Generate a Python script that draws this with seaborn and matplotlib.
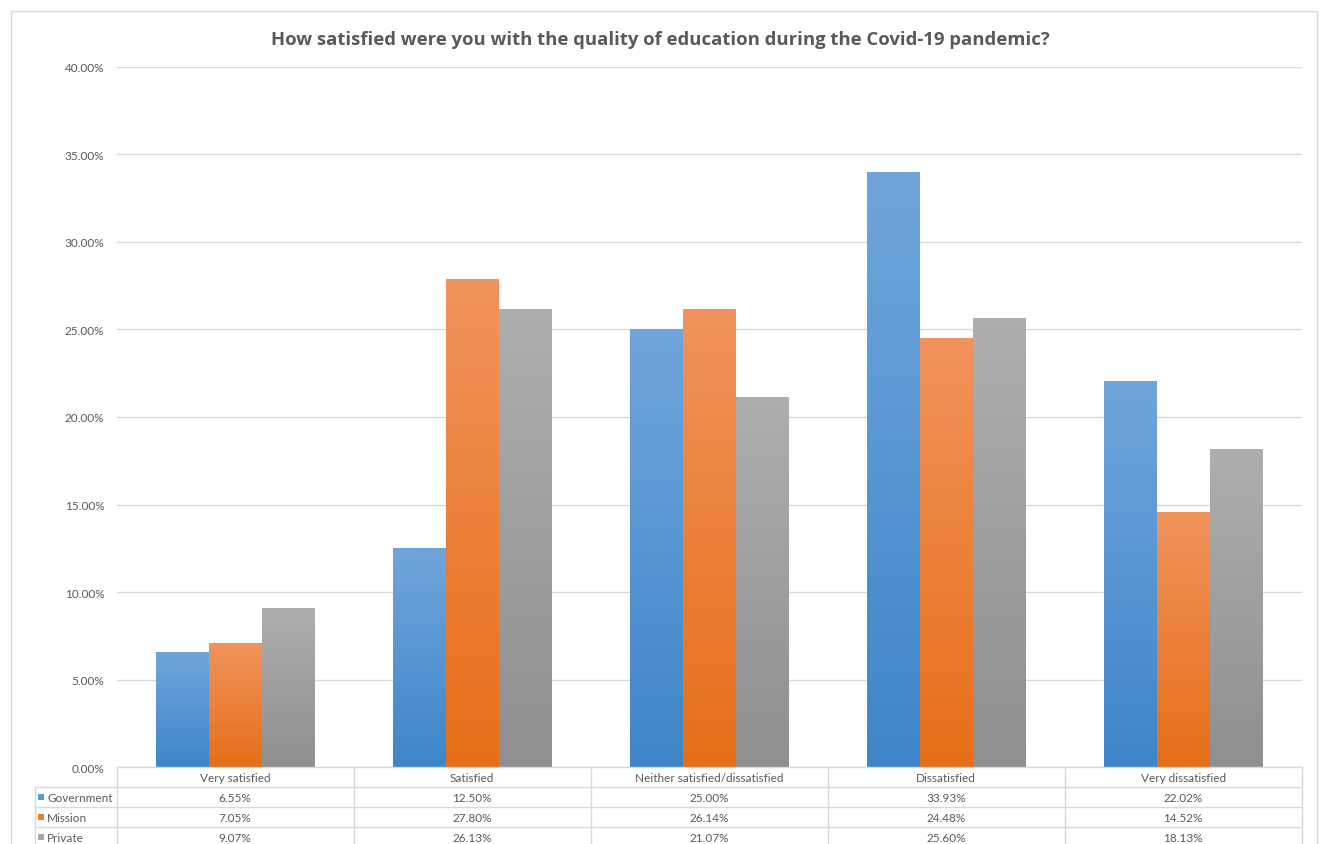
import numpy as np
import pandas as pd
import matplotlib
matplotlib.use("Agg")
import matplotlib.pyplot as plt
import seaborn as sns
from matplotlib.colors import LinearSegmentedColormap
from matplotlib.lines import Line2D
from matplotlib.patches import Rectangle
from matplotlib.transforms import blended_transform_factory

# Survey responses (% of respondents) by school type
categories = ["Very satisfied", "Satisfied", "Neither satisfied/dissatisfied",
              "Dissatisfied", "Very dissatisfied"]
series = ["Government", "Mission", "Private"]
government = [6.55, 12.50, 25.00, 33.93, 22.02]
mission = [7.05, 27.80, 26.14, 24.48, 14.52]
private = [9.07, 26.13, 21.07, 25.60, 18.13]
y_ticks = [0, 5, 10, 15, 20, 25, 30, 35, 40]
title = "How satisfied were you with the quality of education during the Covid-19 pandemic?"

values = {"Government": government, "Mission": mission, "Private": private}
df = pd.DataFrame([
    {"category": c, "school": s, "pct": values[s][i]}
    for s in series for i, c in enumerate(categories)
])

base = {"Government": "#5b9bd5", "Mission": "#ed7d31", "Private": "#a5a5a5"}
grad = {  # (bottom, top)
    "Government": ("#3e86c9", "#70a5db"),
    "Mission": ("#e66e16", "#f1935c"),
    "Private": ("#8f8f8f", "#aeaeae"),
}

sns.set_theme(style="white")
plt.rcParams["font.family"] = ["Lato", "DejaVu Sans"]

W, H = 1320, 845
fig = plt.figure(figsize=(W / 100, H / 100), dpi=100)


def fx(x):
    return x / W


def fy(y):
    return 1 - y / H


ax_left, ax_right, ax_top, ax_bottom = 116.7, 1301.7, 67.5, 768.3
ax = fig.add_axes([fx(ax_left), fy(ax_bottom), fx(ax_right - ax_left),
                   (ax_bottom - ax_top) / H])

sns.barplot(data=df, x="category", y="pct", hue="school", order=categories,
            hue_order=series, palette=base, width=0.667, gap=0,
            legend=False, ax=ax, linewidth=0, saturation=1)

# vertical gradient over each bar
ramp = np.linspace(0, 1, 256).reshape(-1, 1)
for name, cont in zip(series, ax.containers):
    cmap = LinearSegmentedColormap.from_list(name, list(grad[name]))
    for patch in cont.patches:
        x0, y0 = patch.get_x(), patch.get_y()
        w, h = patch.get_width(), patch.get_height()
        ax.imshow(ramp, cmap=cmap, extent=[x0, x0 + w, y0, y0 + h],
                  origin="lower", aspect="auto", zorder=patch.get_zorder() + 0.1,
                  interpolation="bilinear")

ax.set_xlim(-0.5, len(categories) - 0.5)
ax.set_ylim(0, 40)
ax.set_yticks(y_ticks)
ax.set_yticklabels([f"{v:.2f}%" for v in y_ticks], color="#595959", fontsize=8.5)
ax.tick_params(axis="y", length=0, pad=9)
ax.set_xticks([])
ax.set_xlabel("")
ax.set_ylabel("")
ax.yaxis.grid(True, color="#d9d9d9", linewidth=1)
ax.set_axisbelow(True)
for sp in ax.spines.values():
    sp.set_visible(False)

fig.text(0.5, fy(40), title, ha="center", va="center", fontsize=13.3,
         fontweight="bold", color="#595959", family=["Open Sans", "DejaVu Sans"])

# data table under the plot
line_c = "#d9d9d9"
tr = blended_transform_factory(ax.transData, fig.transFigure)
row_edges = [768.3, 788.3, 808.3, 828.3, 850]
label_left = 35
n = len(categories)
# horizontal rules across the category columns
for y in row_edges[:-1]:
    fig.add_artist(Line2D([-0.5, n - 0.5], [fy(y), fy(y)], transform=tr,
                          color=line_c, lw=1))
# horizontal rules across the series label column
for y in row_edges[1:-1]:
    fig.add_artist(Line2D([fx(label_left), fx(ax_left)], [fy(y), fy(y)],
                          color=line_c, lw=1))
# vertical rules
for i in range(n + 1):
    fig.add_artist(Line2D([i - 0.5, i - 0.5], [fy(row_edges[0]), fy(row_edges[-1])],
                          transform=tr, color=line_c, lw=1))
fig.add_artist(Line2D([fx(label_left), fx(label_left)],
                      [fy(row_edges[1]), fy(row_edges[-1])], color=line_c, lw=1))

txt_c = "#595959"
fs = 8.5
for i, c in enumerate(categories):
    fig.text(i, fy(778.3), c, transform=tr, ha="center", va="center",
             fontsize=fs, color=txt_c)
for r, s in enumerate(series):
    yc = fy(798.3 + 20 * r)
    for i in range(n):
        fig.text(i, yc, f"{values[s][i]:.2f}%", transform=tr, ha="center",
                 va="center", fontsize=fs, color=txt_c)
    fig.add_artist(Rectangle((fx(37.5), yc - 3.2 / H), 6.5 / W, 6.5 / H,
                             facecolor=base[s], edgecolor="none"))
    fig.text(fx(47), yc, s, ha="left", va="center", fontsize=fs, color=txt_c)

# chart frame
fig.add_artist(Rectangle((fx(10.7), -0.01), fx(1317 - 10.7), fy(12.3) + 0.01,
                         facecolor="none", edgecolor=line_c, lw=1))

fig.savefig("out.png", dpi=100, facecolor="white")
